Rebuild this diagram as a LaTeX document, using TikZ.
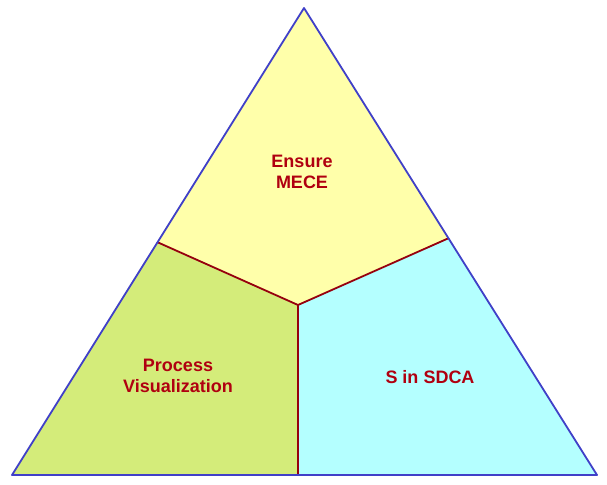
\documentclass[tikz,border=0pt]{standalone}
\usepackage{fontspec}
\setmainfont{Liberation Sans}
\definecolor{topfill}{HTML}{FFFFAA}
\definecolor{leftfill}{HTML}{D4EC7A}
\definecolor{rightfill}{HTML}{B4FFFF}
\definecolor{edgeblue}{HTML}{4040C8}
\definecolor{labelred}{HTML}{B00010}
\tikzset{
  label/.style={text=labelred, font=\bfseries\fontsize{18}{21}\selectfont, align=center},
  divider/.style={draw=labelred!85!black, line width=1.8pt}
}
\begin{document}
\begin{tikzpicture}[x=1pt,y=-1pt]
  \useasboundingbox (0,0) rectangle (607,484);
  %
  \coordinate (T) at (304,8);
  \coordinate (L) at (12,475);
  \coordinate (R) at (597,475);
  \coordinate (C) at (298,305);
  \coordinate (ML) at (157,242);
  \coordinate (MR) at (449,238);
  \coordinate (MB) at (298,475);
  %
  \fill[topfill] (T) -- (MR) -- (C) -- (ML) -- cycle;
  \fill[leftfill] (ML) -- (C) -- (MB) -- (L) -- cycle;
  \fill[rightfill] (MR) -- (R) -- (MB) -- (C) -- cycle;
  %
  \draw[divider] (ML) -- (C) -- (MR);
  \draw[divider] (C) -- (MB);
  \draw[edgeblue, line width=1.8pt, line join=round] (T) -- (L) -- (R) -- cycle;
  %
  \node[label] (ensure) at (302,172) {Ensure\\MECE};
  \node[label] (process) at (178,376) {Process\\Visualization};
  \node[label] (sdca) at (430,377) {S in SDCA};
\end{tikzpicture}
\end{document}
